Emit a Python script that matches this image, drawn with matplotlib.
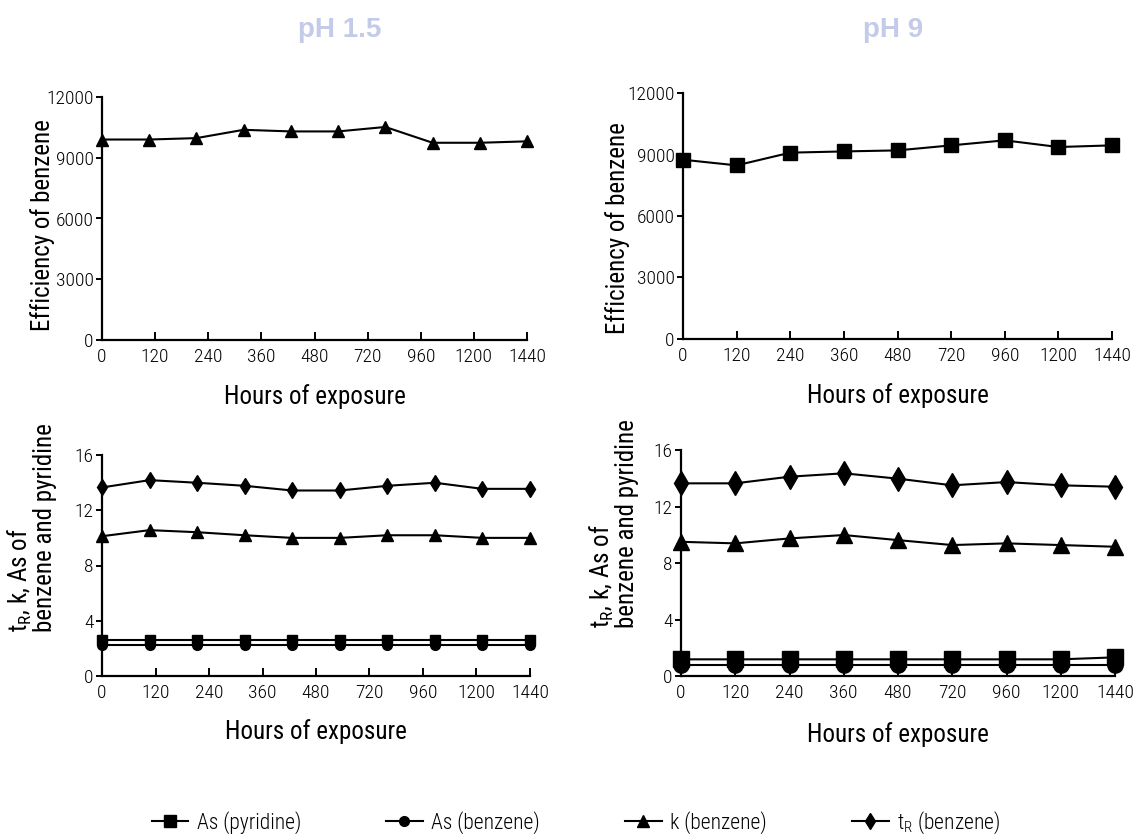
import numpy as np
import matplotlib
matplotlib.use("Agg")
import matplotlib.pyplot as plt
from matplotlib import font_manager
from matplotlib.lines import Line2D

# pick a condensed sans if one is installed
names = {f.name for f in font_manager.fontManager.ttflist}
base_font = "DejaVu Sans"
for cand in ["Roboto Condensed", "Archivo Narrow", "Liberation Sans Narrow", "Barlow Semi Condensed"]:
    if cand in names:
        base_font = cand
        break
plt.rcParams["font.family"] = [base_font, "DejaVu Sans"]
plt.rcParams["font.stretch"] = "condensed"
plt.rcParams["font.weight"] = "light"
plt.rcParams["mathtext.default"] = "regular"

tick_labels = ["0", "120", "240", "360", "480", "720", "960", "1200", "1440"]

# pH 1.5: 10 samples spread over the axis
eff_ph15 = [9900, 9900, 9970, 10380, 10300, 10300, 10520, 9740, 9740, 9810]
tr_ph15 = [13.65, 14.18, 13.99, 13.77, 13.43, 13.43, 13.77, 13.99, 13.55, 13.55]
k_ph15 = [10.12, 10.56, 10.41, 10.19, 10.0, 10.0, 10.19, 10.19, 10.0, 10.0]
as_pyr_ph15 = [2.58] * 10
as_benz_ph15 = [2.27] * 10

# pH 9: 9 samples on the ticks
eff_ph9 = [8745, 8470, 9090, 9150, 9200, 9445, 9690, 9365, 9445]
tr_ph9 = [13.64, 13.64, 14.11, 14.35, 13.97, 13.5, 13.73, 13.5, 13.4]
k_ph9 = [9.5, 9.39, 9.74, 9.98, 9.62, 9.27, 9.39, 9.27, 9.15]
as_pyr_ph9 = [1.18, 1.18, 1.18, 1.18, 1.18, 1.18, 1.18, 1.18, 1.32]
as_benz_ph9 = [0.8] * 9

fig = plt.figure(figsize=(11.38, 8.38), dpi=100)
W, H = 1138, 838


def add_ax(x0, y0, x1, y1):
    return fig.add_axes([x0 / W, 1 - y1 / H, (x1 - x0) / W, (y1 - y0) / H])


def style(ax, n, ymax, yticks):
    for s in ["top", "right"]:
        ax.spines[s].set_visible(False)
    for s in ["left", "bottom"]:
        ax.spines[s].set_linewidth(1.6)
    ax.set_xlim(0, n - 1)
    ax.set_xticks(np.linspace(0, n - 1, len(tick_labels)))
    ax.set_xticklabels(tick_labels)
    ax.set_ylim(0, ymax)
    ax.set_yticks(yticks)
    ax.tick_params(axis="x", direction="in", length=6, width=1.4, labelsize=14, pad=6)
    ax.tick_params(axis="y", direction="out", length=4, width=1.4, labelsize=14, pad=2)
    ax.set_xlabel("Hours of exposure", fontsize=18, labelpad=13)


line_kw = dict(color="black", lw=1.5, clip_on=False)

ax1 = add_ax(102, 97, 527, 340)
ax1.plot(range(10), eff_ph15, marker="^", ms=8, **line_kw)
style(ax1, 10, 12000, [0, 3000, 6000, 9000, 12000])
ax1.set_ylabel("Efficiency of benzene", fontsize=18)
ax1.yaxis.set_label_coords(-0.11, 0.473)

ax2 = add_ax(683, 93, 1112, 339)
ax2.plot(range(9), eff_ph9, marker="s", ms=10, **line_kw)
style(ax2, 9, 12000, [0, 3000, 6000, 9000, 12000])
ax2.set_ylabel("Efficiency of benzene", fontsize=18)
ax2.yaxis.set_label_coords(-0.124, 0.45)

ylab = "t$_{\\mathregular{R}}$, k, As of\nbenzene and pyridine"

ax3 = add_ax(102, 455, 530, 676)
x3 = range(10)
ax3.plot(x3, tr_ph15, marker="d", ms=8, **line_kw)
ax3.plot(x3, k_ph15, marker="^", ms=8, **line_kw)
ax3.plot(x3, as_pyr_ph15, marker="s", ms=7, **line_kw)
ax3.plot(x3, as_benz_ph15, marker="o", ms=7, **line_kw)
style(ax3, 10, 16, [0, 4, 8, 12, 16])
ax3.set_ylabel(ylab, fontsize=18, linespacing=0.95, ma="left")
ax3.yaxis.set_label_coords(-0.105, 0.67)
ax3.xaxis.labelpad = 12

ax4 = add_ax(681, 450, 1115, 676)
x4 = range(9)
ax4.plot(x4, tr_ph9, marker="d", ms=12, **line_kw)
ax4.plot(x4, k_ph9, marker="^", ms=12, **line_kw)
ax4.plot(x4, as_pyr_ph9, marker="s", ms=11, **line_kw)
ax4.plot(x4, as_benz_ph9, marker="o", ms=11, **line_kw)
style(ax4, 9, 16, [0, 4, 8, 12, 16])
ax4.set_ylabel(ylab, fontsize=18, linespacing=0.95, ma="left")
ax4.yaxis.set_label_coords(-0.096, 0.675)
ax4.xaxis.labelpad = 14

fig.text(340 / W, 1 - 30 / H, "pH 1.5", ha="center", va="center",
         fontsize=20, fontweight="bold", color="#c3cbe9", family="Liberation Sans")
fig.text(893 / W, 1 - 30 / H, "pH 9", ha="center", va="center",
         fontsize=20, fontweight="bold", color="#c3cbe9", family="Liberation Sans")

handles = [
    Line2D([], [], color="black", lw=1.5, marker="s", ms=8),
    Line2D([], [], color="black", lw=1.5, marker="o", ms=7),
    Line2D([], [], color="black", lw=1.5, marker="^", ms=8),
    Line2D([], [], color="black", lw=1.5, marker="d", ms=8),
]
labels = ["As (pyridine)", "As (benzene)", "k (benzene)", "t$_{\\mathregular{R}}$ (benzene)"]
fig.legend(handles, labels, loc="center", bbox_to_anchor=(576 / W, 1 - 823 / H),
           ncol=4, frameon=False, fontsize=15.5, handlelength=1.7, handletextpad=0.4,
           columnspacing=3.95)

fig.savefig("out.png", dpi=100)
